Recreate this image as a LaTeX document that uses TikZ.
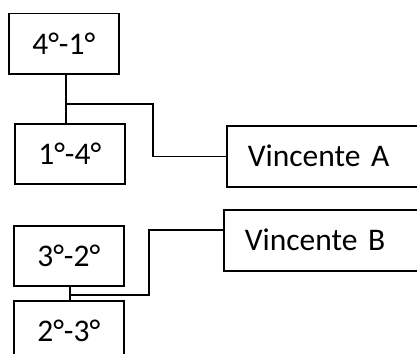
\documentclass[tikz,border=0pt]{standalone}
\usepackage{fontspec}
\setmainfont{Carlito}
\usepackage{tikz}
\usetikzlibrary{positioning}

\tikzset{
	degbox/.style={draw, line width=1.5pt, minimum width=110pt, minimum height=60pt, inner sep=0pt, anchor=north west},
	namebox/.style={draw, line width=1.5pt, minimum height=61pt, text width=200pt, inner xsep=21pt, inner ysep=0pt, align=left, anchor=north west},
	link/.style={line width=1.5pt}
}

\begin{document}
\begin{tikzpicture}[x=1pt, y=-1pt, font=\fontsize{31.5}{38}\selectfont]
		\useasboundingbox (0,0) rectangle (417,353);
		\clip (0,0) rectangle (417,353);
		\foreach \n/\x/\y/\t in{
				t41/8/13/4°-1°,
				t14/14/123/1°-4°,
				t32/13/225/3°-2°,
				t23/13/300/2°-3°
		}{
		\node[degbox] (\n) at (\x,\y) {\t};
		}
		\node[namebox] (va) at (226,125) {Vincente A};
		\node[namebox] (vb) at (223,209) {Vincente B};
		% first pair
		\coordinate (ja) at (66,104);
		\draw[link] (t41.south -| ja) -- (t14.north -| ja);
		\draw[link] (ja) -- ++(87,0) |- (va.west);
		% second pair
		\coordinate (jb) at (70,295);
		\draw[link] (t32.south -| jb) -- (t23.north -| jb);
		\draw[link] (jb) -- ++(79,0) |- ([yshift=10.5pt]vb.west);
\end{tikzpicture}
\end{document}
